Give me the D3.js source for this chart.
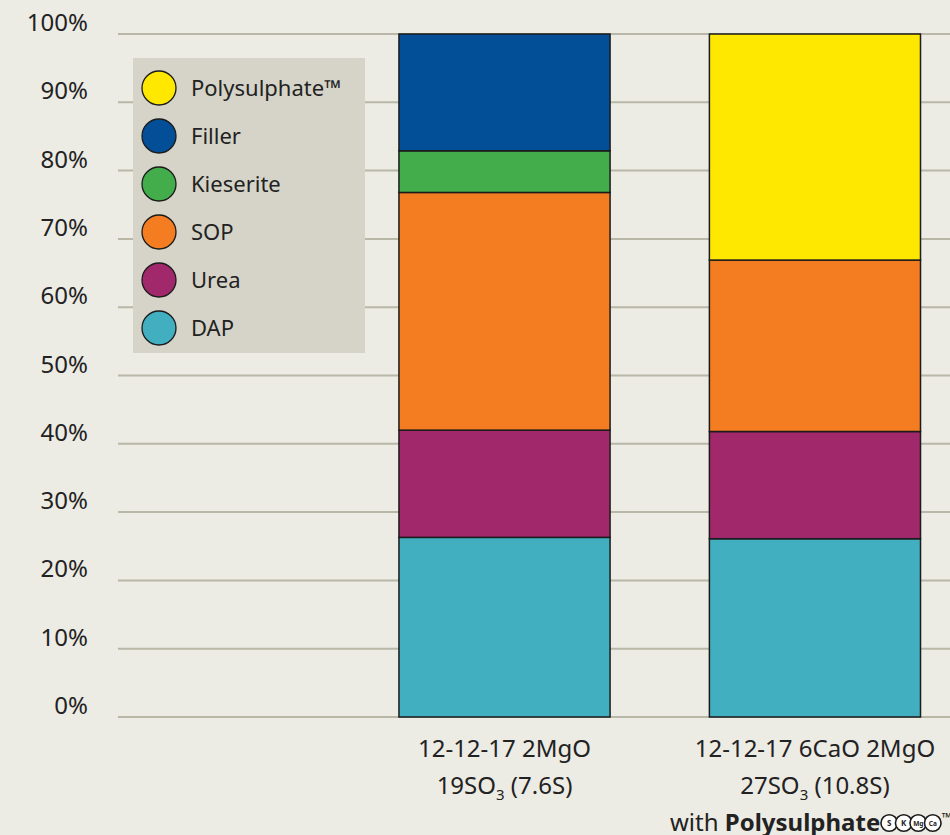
<!DOCTYPE html>
<html>
<head>
<meta charset="utf-8">
<script src="https://cdn.jsdelivr.net/npm/d3@7"></script>
<style>
  html, body { margin: 0; padding: 0; background: #ecebe4; }
  svg { display: block; font-family: "Noto Sans", "Open Sans", sans-serif; }
</style>
</head>
<body>
<div id="chart"></div>
<script>
// data (percent of blend)
const categories = ["blend1", "blend2"];
const seriesNames = ["DAP", "Urea", "SOP", "Kieserite", "Filler", "Polysulphate™"];
const dap = [26.3, 26.1];
const urea = [15.7, 15.7];
const sop = [34.8, 25.1];
const kieserite = [6.1, 0];
const filler = [17.1, 0];
const polysulphate = [0, 33.1];
const yTicks = [0, 10, 20, 30, 40, 50, 60, 70, 80, 90, 100];
const labelLines = [
  ["12-12-17 2MgO", "19SO|3| (7.6S)"],
  ["12-12-17 6CaO 2MgO", "27SO|3| (10.8S)"]
];
const logoLetters = ["S", "K", "Mg", "Ca"];

const colors = {
  "DAP": "#42afc0",
  "Urea": "#a0286b",
  "SOP": "#f47c21",
  "Kieserite": "#43ad4b",
  "Filler": "#024f98",
  "Polysulphate™": "#ffe800"
};

const W = 950, H = 835;
const svg = d3.select("#chart").append("svg").attr("width", W).attr("height", H);

// tabulka pro d3.stack
const table = categories.map((c, i) => ({
  cat: c,
  "DAP": dap[i], "Urea": urea[i], "SOP": sop[i],
  "Kieserite": kieserite[i], "Filler": filler[i], "Polysulphate™": polysulphate[i]
}));
const stacked = d3.stack().keys(seriesNames)(table);

const y = d3.scaleLinear().domain([0, 100]).range([717, 34]);
const x = d3.scaleBand().domain(categories).range([118, 950])
  .paddingInner(0.32).paddingOuter(0.5).align(0.905);

// gridlines
svg.append("g").selectAll("line").data(yTicks).join("line")
  .attr("x1", 118).attr("x2", W)
  .attr("y1", d => y(d)).attr("y2", d => y(d))
  .attr("stroke", "#b9b8a8").attr("stroke-width", 2);

// tick labels
svg.append("g").selectAll("text").data(yTicks).join("text")
  .attr("x", 88).attr("y", d => y(d) - 3)
  .attr("text-anchor", "end")
  .attr("font-size", 24).attr("fill", "#222")
  .text(d => d + "%");

// bars
svg.append("g").selectAll("g").data(stacked).join("g")
  .attr("fill", d => colors[d.key])
  .selectAll("rect").data(d => d.filter(p => p[1] - p[0] > 0)).join("rect")
  .attr("x", d => x(d.data.cat))
  .attr("width", x.bandwidth())
  .attr("y", d => y(d[1]))
  .attr("height", d => y(d[0]) - y(d[1]))
  .attr("stroke", "#1b1b1b").attr("stroke-width", 1.5);

// legenda
const legend = svg.append("g");
legend.append("rect").attr("x", 133).attr("y", 58).attr("width", 232).attr("height", 295)
  .attr("fill", "#d6d4c8");
const legendItems = seriesNames.slice().reverse();
const li = legend.selectAll("g.item").data(legendItems).join("g")
  .attr("class", "item")
  .attr("transform", (d, i) => `translate(159, ${88 + i * 48})`);
li.append("circle").attr("r", 17).attr("fill", d => colors[d])
  .attr("stroke", "#1b1b1b").attr("stroke-width", 1.3);
li.append("text").attr("x", 32).attr("y", 8)
  .attr("font-size", 22).attr("fill", "#222").text(d => d);

// popisky kategorii
categories.forEach((c, i) => {
  const cx = x(c) + x.bandwidth() / 2;
  labelLines[i].forEach((line, j) => {
    const t = svg.append("text").attr("x", cx).attr("y", 757 + j * 37)
      .attr("text-anchor", "middle").attr("font-size", 24).attr("fill", "#222");
    line.split("|").forEach((part, k) => {
      if (k % 2 === 1) {
        t.append("tspan").attr("font-size", 15).attr("dy", 6).text(part);
      } else if (k > 0) {
        t.append("tspan").attr("dy", -6).text(part);
      } else {
        t.append("tspan").text(part);
      }
    });
  });
});

// "with Polysulphate" + logo
const wx = 670, wy = 831;
const w = svg.append("text").attr("x", wx).attr("y", wy).attr("font-size", 24).attr("fill", "#222");
w.append("tspan").text("with ");
w.append("tspan").attr("font-weight", "bold").text("Polysulphate");
const wEnd = wx + w.node().getComputedTextLength();
const logo = svg.append("g").attr("transform", `translate(${wEnd + 9}, ${wy - 8})`);
logoLetters.forEach((l, i) => {
  const g = logo.append("g").attr("transform", `translate(${i * 14.5}, 0)`);
  g.append("circle").attr("r", 8.3).attr("fill", "#fff").attr("stroke", "#1b1b1b").attr("stroke-width", 1.6);
  g.append("text").attr("text-anchor", "middle").attr("y", 2.5)
    .attr("font-size", l.length > 1 ? 6.5 : 8).attr("font-weight", "bold").attr("fill", "#222").text(l);
});
logo.append("text").attr("x", 3 * 14.5 + 9).attr("y", -1).attr("font-size", 13)
  .attr("font-weight", "bold").attr("fill", "#222").text("™");
</script>
</body>
</html>
